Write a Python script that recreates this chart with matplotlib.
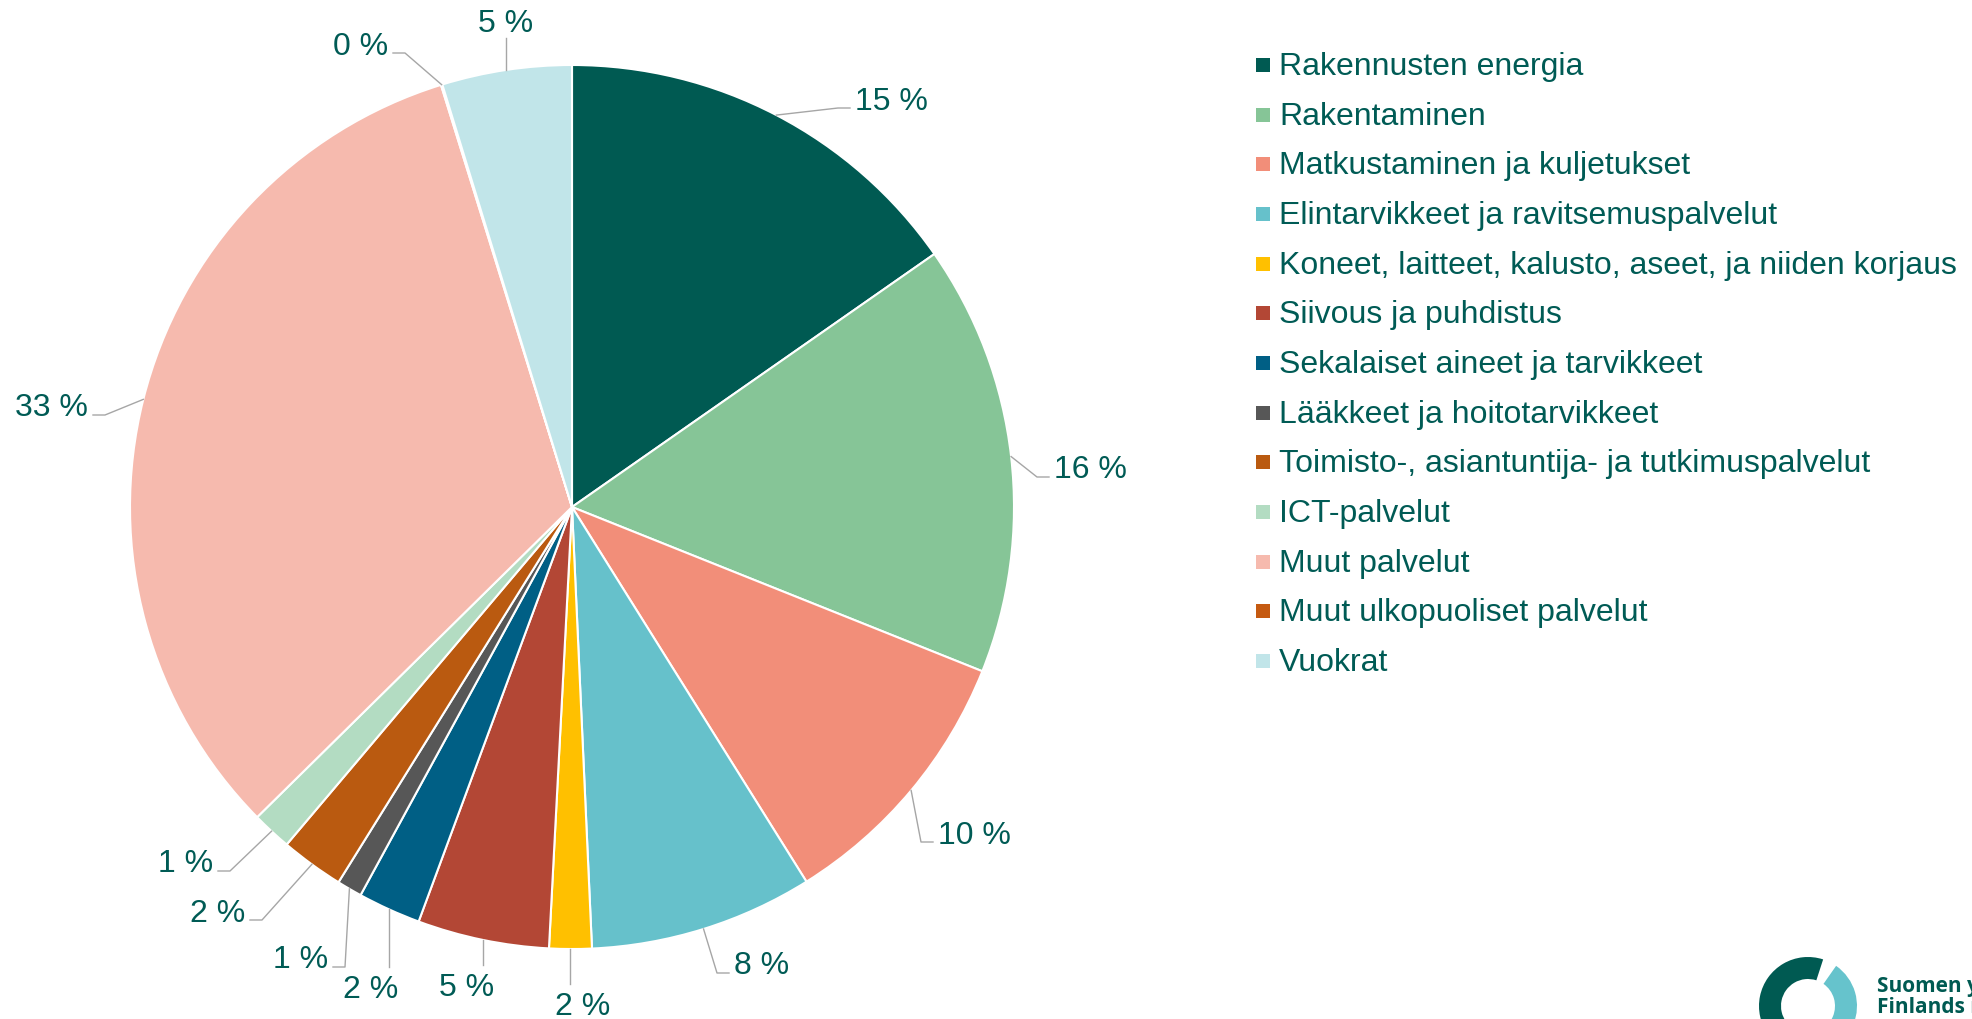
import numpy as np
import matplotlib.pyplot as plt
from matplotlib.patches import Wedge, Rectangle

plt.rcParams['font.family'] = ['Liberation Sans', 'DejaVu Sans']

categories = ['Rakennusten energia', 'Rakentaminen', 'Matkustaminen ja kuljetukset',
              'Elintarvikkeet ja ravitsemuspalvelut',
              'Koneet, laitteet, kalusto, aseet, ja niiden korjaus',
              'Siivous ja puhdistus', 'Sekalaiset aineet ja tarvikkeet',
              'Lääkkeet ja hoitotarvikkeet',
              'Toimisto-, asiantuntija- ja tutkimuspalvelut', 'ICT-palvelut',
              'Muut palvelut', 'Muut ulkopuoliset palvelut', 'Vuokrat']
shares = [15.3, 15.76, 10.04, 8.18, 1.55, 4.81, 2.30, 0.92, 2.31, 1.45, 32.59, 0.05, 4.74]
colors = ['#005A52', '#86C597', '#F28E79', '#66C1CB', '#FFC000', '#B34735', '#005F85',
          '#575757', '#BA5A10', '#B3DCC2', '#F6BAAE', '#C55A11', '#C1E5E9']

# label placement (pixel layout): side, x, y
label_pos = [('r', 850, 108), ('r', 1049, 477), ('r', 933, 842), ('r', 729, 973),
             ('b', 583, 1015), ('b', 467, 996), ('b', 371, 998), ('l', 333, 967),
             ('l', 250, 920), ('l', 218, 871), ('l', 93, 415), ('l', 393, 53),
             ('t', 506, 32)]

W, H = 1972, 1019
txt_col = '#005B55'
line_col = '#A6A6A6'
cx, cy, R = 572, 507, 442

fig = plt.figure(figsize=(W / 100, H / 100), dpi=100)
ax = fig.add_axes([0, 0, 1, 1])

# y axis is inverted below, so counterclock=True draws clockwise from the top
ax.pie(shares, colors=colors, startangle=-90, counterclock=True,
       center=(cx, cy), radius=R,
       wedgeprops=dict(edgecolor='white', linewidth=1.5))

vals = np.array(shares)
mid = (np.cumsum(vals) - vals / 2) / vals.sum() * 2 * np.pi
for v, a, (side, x, y) in zip(vals, mid, label_pos):
    sx, sy = cx + R * np.sin(a), cy - R * np.cos(a)
    lab = f"{v:.0f} %"
    if side == 'r':
        ax.plot([sx, x - 12, x], [sy, y, y], color=line_col, lw=1.0)
        ax.text(x + 5, y + 1.5, lab, ha='left', va='baseline', fontsize=23, color=txt_col)
    elif side == 'l':
        ax.plot([sx, x + 12, x], [sy, y, y], color=line_col, lw=1.0)
        ax.text(x - 5, y + 1.5, lab, ha='right', va='baseline', fontsize=23, color=txt_col)
    elif side == 'b':
        ax.plot([sx, sx], [sy, y - 31], color=line_col, lw=1.0)
        ax.text(x, y, lab, ha='center', va='baseline', fontsize=23, color=txt_col)
    else:
        ax.plot([sx, sx], [sy, y + 6], color=line_col, lw=1.0)
        ax.text(x, y, lab, ha='center', va='baseline', fontsize=23, color=txt_col)

# legend
for i, (name, c) in enumerate(zip(categories, colors)):
    base = 75 + i * 49.67
    ax.add_patch(Rectangle((1256, base - 17), 14, 14, facecolor=c, edgecolor='none'))
    ax.text(1279, base, name, ha='left', va='baseline', fontsize=23, color=txt_col)

# logo in the corner
ax.add_patch(Wedge((1808, 1006), 49, -265, -72, width=22, facecolor='#005A52', edgecolor='none'))
ax.add_patch(Wedge((1808, 1006), 49, -55, 100, width=22, facecolor='#66C3CC', edgecolor='none'))
ax.text(1877, 992, 'Suomen ympäristökeskus', ha='left', va='baseline', fontsize=15,
        fontweight='bold', color='#005A52', family=['Open Sans', 'DejaVu Sans'])
ax.text(1877, 1013, 'Finlands miljöcentral', ha='left', va='baseline', fontsize=15,
        fontweight='bold', color='#005A52', family=['Open Sans', 'DejaVu Sans'])

ax.set_xlim(0, W)
ax.set_ylim(H, 0)
ax.set_aspect('equal')
ax.axis('off')

fig.savefig('out.png', dpi=100, facecolor='white')
